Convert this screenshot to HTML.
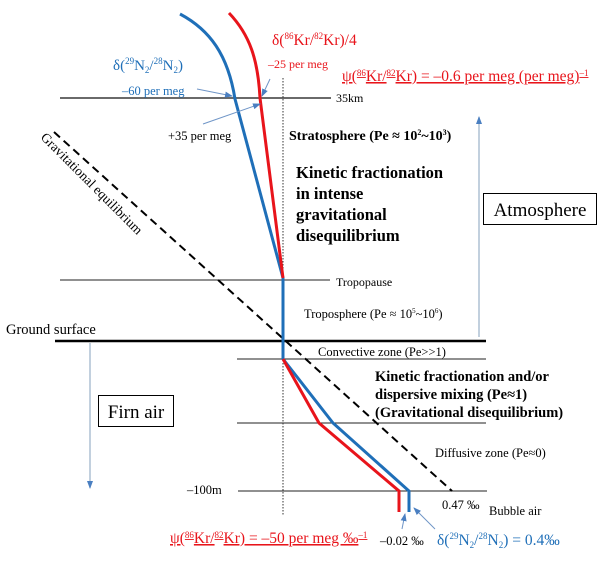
<!DOCTYPE html>
<html><head><meta charset="utf-8"><style>
html,body{margin:0;padding:0;background:#fff;width:600px;height:561px;overflow:hidden}
text{font-family:"Liberation Serif",serif}
</style></head><body>
<svg width="600" height="561" viewBox="0 0 600 561" xmlns="http://www.w3.org/2000/svg">
<defs>
<marker id="ab" markerWidth="8" markerHeight="8" refX="7" refY="4" orient="auto" markerUnits="userSpaceOnUse"><path d="M0,1 L8,4 L0,7z" fill="#4a7fc1"/></marker>
</defs>
<line x1="60" y1="98" x2="331" y2="98" stroke="#555" stroke-width="1.8"/>
<line x1="60" y1="280" x2="330" y2="280" stroke="#222" stroke-width="1"/>
<line x1="55" y1="341" x2="486" y2="341" stroke="#000" stroke-width="2.5"/>
<line x1="237" y1="359" x2="486" y2="359" stroke="#222" stroke-width="1"/>
<line x1="237" y1="423" x2="486" y2="423" stroke="#222" stroke-width="1"/>
<line x1="238" y1="491" x2="487" y2="491" stroke="#222" stroke-width="1"/>
<line x1="283" y1="78" x2="283" y2="515" stroke="#333" stroke-width="1" stroke-dasharray="1.5,1.5"/>
<line x1="54" y1="132" x2="452" y2="491" stroke="#000" stroke-width="2" stroke-dasharray="8,5"/>
<line x1="479" y1="337" x2="479" y2="117" stroke="#9ab0c8" stroke-width="1.2" marker-end="url(#ab)"/>
<line x1="90" y1="343" x2="90" y2="488" stroke="#9ab0c8" stroke-width="1.2" marker-end="url(#ab)"/>
<path d="M180,14 C210,30 228,55 235,99 L283,278 L283,359 L333,423 L409,491 L409,512" fill="none" stroke="#1f6fb8" stroke-width="3"/>
<path d="M229,13 C250,35 258,60 260,98 L283,278 M283,359 L319,423 L399,491 L399,512" fill="none" stroke="#e8141b" stroke-width="3"/>
<line x1="197" y1="89" x2="232" y2="96" stroke="#6f95c7" stroke-width="1" marker-end="url(#ab)"/>
<line x1="270" y1="79" x2="262" y2="96" stroke="#6f95c7" stroke-width="1" marker-end="url(#ab)"/>
<line x1="203" y1="124" x2="260" y2="104" stroke="#6f95c7" stroke-width="1" marker-end="url(#ab)"/>
<line x1="402" y1="529" x2="405" y2="514" stroke="#6f95c7" stroke-width="1" marker-end="url(#ab)"/>
<line x1="435" y1="529" x2="414" y2="508" stroke="#6f95c7" stroke-width="1" marker-end="url(#ab)"/>
<rect x="483.5" y="193.5" width="113" height="31" fill="#fff" stroke="#000" stroke-width="1"/>
<text x="540" y="216" font-size="19" text-anchor="middle">Atmosphere</text>
<rect x="98.5" y="395.5" width="75" height="31" fill="#fff" stroke="#000" stroke-width="1"/>
<text x="136" y="418" font-size="19" text-anchor="middle">Firn air</text>
<text x="272" y="45" font-size="15.5" fill="#e8141b">δ(<tspan font-size="9" dy="-6">86</tspan><tspan dy="6">Kr/</tspan><tspan font-size="9" dy="-6">82</tspan><tspan dy="6">Kr)/4</tspan></text>
<text x="268" y="68" font-size="12" fill="#e8141b">–25 per meg</text>
<text x="342" y="81" font-size="15.5" fill="#e8141b" text-decoration="underline">ψ(<tspan font-size="9" dy="-5">86</tspan><tspan dy="5">Kr/</tspan><tspan font-size="9" dy="-5">82</tspan><tspan dy="5">Kr) = –0.6 per meg (per meg)</tspan><tspan font-size="9" dy="-5">–1</tspan></text>
<text x="113" y="70" font-size="15" fill="#1f6fb8">δ(<tspan font-size="9" dy="-6">29</tspan><tspan dy="6">N</tspan><tspan font-size="9" dy="3">2</tspan><tspan dy="-3">/</tspan><tspan font-size="9" dy="-6">28</tspan><tspan dy="6">N</tspan><tspan font-size="9" dy="3">2</tspan><tspan dy="-3">)</tspan></text>
<text x="122" y="95" font-size="12.5" fill="#1f6fb8">–60 per meg</text>
<text x="336" y="102" font-size="12">35km</text>
<text x="168" y="140" font-size="12.5">+35 per meg</text>
<text x="289" y="140" font-size="14" font-weight="bold">Stratosphere (Pe ≈ 10<tspan font-size="8" dy="-5">2</tspan><tspan dy="5">~10</tspan><tspan font-size="8" dy="-5">3</tspan><tspan dy="5">)</tspan></text>
<g font-size="16.5" font-weight="bold">
<text x="296" y="178">Kinetic fractionation</text>
<text x="296" y="199">in intense</text>
<text x="296" y="220">gravitational</text>
<text x="296" y="241">disequilibrium</text>
</g>
<text x="40" y="138" font-size="13.5" transform="rotate(45 40 138)">Gravitational equilibrium</text>
<text x="336" y="286" font-size="12">Tropopause</text>
<text x="304" y="318" font-size="12.5">Troposphere (Pe ≈ 10<tspan font-size="7" dy="-5">5</tspan><tspan dy="5">~10</tspan><tspan font-size="7" dy="-5">6</tspan><tspan dy="5">)</tspan></text>
<text x="6" y="334" font-size="14.5">Ground surface</text>
<text x="318" y="356" font-size="12.5">Convective zone (Pe&gt;&gt;1)</text>
<g font-size="14.5" font-weight="bold">
<text x="375" y="381">Kinetic fractionation and/or</text>
<text x="375" y="399">dispersive mixing (Pe≈1)</text>
<text x="375" y="417">(Gravitational disequilibrium)</text>
</g>
<text x="435" y="457" font-size="12.5">Diffusive zone (Pe≈0)</text>
<text x="187" y="494" font-size="12.5">–100m</text>
<text x="442" y="509" font-size="12.5">0.47 ‰</text>
<text x="489" y="515" font-size="12.5">Bubble air</text>
<text x="170" y="543" font-size="15.5" fill="#e8141b" text-decoration="underline">ψ(<tspan font-size="9" dy="-5">86</tspan><tspan dy="5">Kr/</tspan><tspan font-size="9" dy="-5">82</tspan><tspan dy="5">Kr) = –50 per meg ‰</tspan><tspan font-size="9" dy="-5">–1</tspan></text>
<text x="380" y="545" font-size="12.5">–0.02 ‰</text>
<text x="437" y="545" font-size="15.5" fill="#1f6fb8">δ(<tspan font-size="9" dy="-6">29</tspan><tspan dy="6">N</tspan><tspan font-size="9" dy="3">2</tspan><tspan dy="-3">/</tspan><tspan font-size="9" dy="-6">28</tspan><tspan dy="6">N</tspan><tspan font-size="9" dy="3">2</tspan><tspan dy="-3">) = 0.4‰</tspan></text>
</svg>
</body></html>
